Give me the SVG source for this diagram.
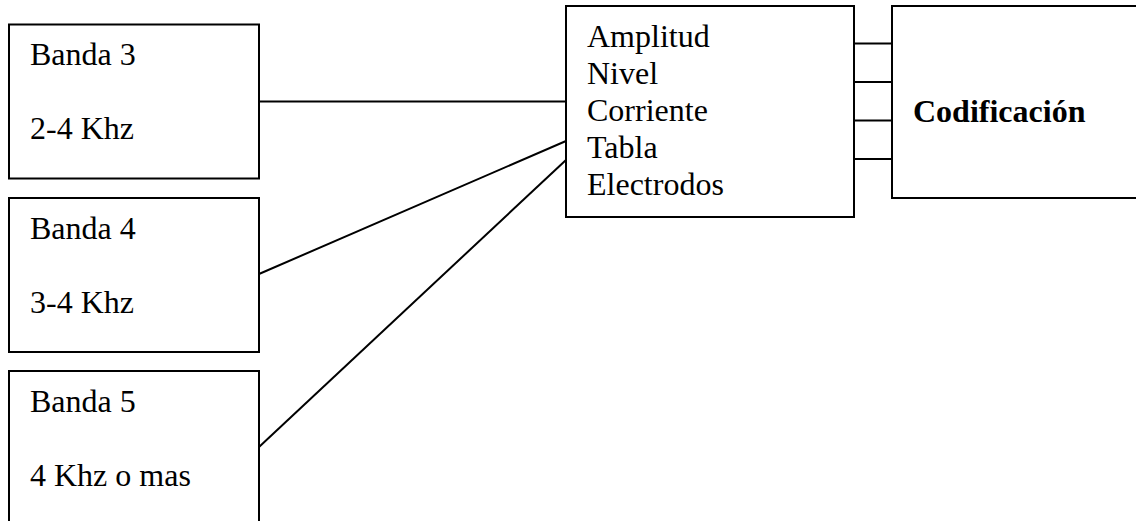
<svg xmlns="http://www.w3.org/2000/svg" width="1136" height="521" viewBox="0 0 1136 521">
  <style>
    .box { fill: #fff; stroke: #000; stroke-width: 2; }
    .wire { stroke: #000; stroke-width: 2; fill: none; }
    .lbl { font-family: "Liberation Serif", "Times New Roman", serif; font-size: 32px; fill: #000; }
    .bold { font-weight: bold; }
  </style>
  <rect width="1136" height="521" fill="#fff"/>

  <!-- connectors -->
  <g id="connectors">
    <line class="wire" x1="259" y1="101.5" x2="566" y2="101.5"/>
    <line class="wire" x1="259" y1="274" x2="566" y2="141"/>
    <line class="wire" x1="259" y1="447" x2="566" y2="160"/>
    <line class="wire" x1="854" y1="43.5" x2="892" y2="43.5"/>
    <line class="wire" x1="854" y1="82" x2="892" y2="82"/>
    <line class="wire" x1="854" y1="120.5" x2="892" y2="120.5"/>
    <line class="wire" x1="854" y1="159" x2="892" y2="159"/>
  </g>

  <g id="banda3">
    <rect class="box" x="9" y="24.5" width="250" height="154"/>
    <text class="lbl" x="30" y="65">Banda 3</text>
    <text class="lbl" x="30" y="139">2-4 Khz</text>
  </g>

  <g id="banda4">
    <rect class="box" x="9" y="198" width="250" height="154"/>
    <text class="lbl" x="30" y="239">Banda 4</text>
    <text class="lbl" x="30" y="313">3-4 Khz</text>
  </g>

  <g id="banda5">
    <rect class="box" x="9" y="371" width="250" height="170"/>
    <text class="lbl" x="30" y="412">Banda 5</text>
    <text class="lbl" x="30" y="486">4 Khz o mas</text>
  </g>

  <g id="parametros">
    <rect class="box" x="566" y="6" width="288" height="211"/>
    <text class="lbl" x="587" y="47">Amplitud</text>
    <text class="lbl" x="587" y="84">Nivel</text>
    <text class="lbl" x="587" y="121">Corriente</text>
    <text class="lbl" x="587" y="158">Tabla</text>
    <text class="lbl" x="587" y="195">Electrodos</text>
  </g>

  <g id="codificacion">
    <rect class="box" x="892" y="6" width="260" height="192"/>
    <text class="lbl bold" x="913" y="122">Codificación</text>
  </g>
</svg>
